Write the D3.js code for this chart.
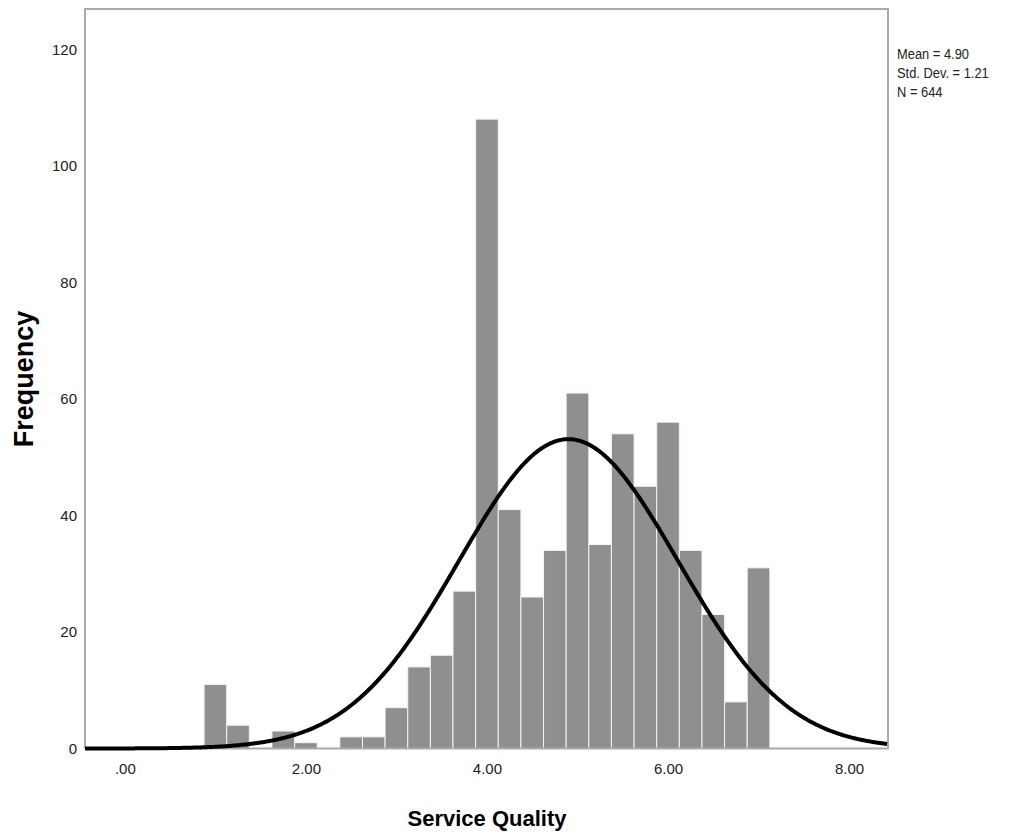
<!DOCTYPE html>
<html>

<head>
  <meta charset="utf-8" />
  <title>Service Quality</title>
  <style>
    body {
      margin: 0;
      background: #fff;
      font-family: "Liberation Sans", Arial, sans-serif;
    }

    .tick text {
      font-family: "Liberation Sans", Arial, sans-serif;
      font-size: 15px;
      fill: #222;
    }

    .bar {
      fill: #918e8e;
      stroke: #f4f4f4;
      stroke-width: 1;
    }
  </style>
  <script src="https://cdnjs.cloudflare.com/ajax/libs/d3/7.8.5/d3.min.js"></script>
</head>

<body>
  <div id="chart"></div>
  <script>
    // bin midpoints (width .25) and counts
    var binMids = [1.00, 1.25, 1.50, 1.75, 2.00, 2.25, 2.50, 2.75, 3.00, 3.25, 3.50, 3.75, 4.00,
      4.25, 4.50, 4.75, 5.00, 5.25, 5.50, 5.75, 6.00, 6.25, 6.50, 6.75, 7.00];
    var counts = [11, 4, 0, 3, 1, 0, 2, 2, 7, 14, 16, 27, 108,
      41, 26, 34, 61, 35, 54, 45, 56, 34, 23, 8, 31];
    var binWidth = 0.25;
    var xTicks = [0, 2, 4, 6, 8];
    var yTicks = [0, 20, 40, 60, 80, 100, 120];
    var mean = 4.90, sd = 1.21, n = 644;
    var statLines = ['Mean = 4.90', 'Std. Dev. = 1.21', 'N = 644'];

    var W = 1011, H = 836;
    var pLeft = 85, pRight = 888, pTop = 9, pBottom = 748.5;

    var svg = d3.select('#chart').append('svg')
      .attr('width', W)
      .attr('height', H);

    var x = d3.scaleLinear()
      .domain([-0.44, 8.43])
      .range([pLeft, pRight]);

    var y = d3.scaleLinear()
      .domain([0, 126.9])
      .range([pBottom, pTop]);

    var bins = binMids.map((m, i) => ({ mid: m, count: counts[i] }))
      .filter(d => d.count > 0);

    // bars
    svg.selectAll('rect.bar')
      .data(bins)
      .enter()
      .append('rect')
      .attr('class', 'bar')
      .attr('x', d => x(d.mid - binWidth / 2))
      .attr('y', d => y(d.count))
      .attr('width', x(binWidth) - x(0))
      .attr('height', d => y(0) - y(d.count));

    // normal curve from the stats shown
    var pts = d3.range(-0.44, 8.44, 0.02).map(function (v) {
      var z = (v - mean) / sd;
      return [v, n * binWidth * Math.exp(-0.5 * z * z) / (sd * Math.sqrt(2 * Math.PI))];
    });

    // frame
    svg.append('path')
      .attr('d', 'M' + pLeft + ',' + pBottom + 'V' + pTop + 'H' + pRight + 'V' + pBottom + 'H' + pLeft)
      .attr('fill', 'none')
      .attr('stroke', '#aaa')
      .attr('stroke-width', 2);

    svg.append('path')
      .datum(pts)
      .attr('fill', 'none')
      .attr('stroke', '#000')
      .attr('stroke-width', 4)
      .attr('d', d3.line().x(d => x(d[0])).y(d => y(d[1])));

    // axes
    var xAxis = svg.append('g')
      .attr('transform', 'translate(0,' + pBottom + ')')
      .call(d3.axisBottom(x).tickValues(xTicks).tickSize(0).tickPadding(15)
        .tickFormat(d => d3.format('.2f')(d).replace(/^0\./, '.')));
    xAxis.select('.domain').remove();

    var yAxis = svg.append('g')
      .attr('transform', 'translate(' + pLeft + ',0)')
      .call(d3.axisLeft(y).tickValues(yTicks).tickSize(0).tickPadding(8));
    yAxis.select('.domain').remove();

    svg.append('text')
      .attr('x', 487)
      .attr('y', 826)
      .attr('text-anchor', 'middle')
      .style('font-size', '22px')
      .style('font-weight', 'bold')
      .text('Service Quality');

    svg.append('text')
      .attr('transform', 'translate(33,379) rotate(-90)')
      .attr('text-anchor', 'middle')
      .style('font-size', '27px')
      .style('font-weight', 'bold')
      .text('Frequency');

    svg.append('g')
      .attr('transform', 'translate(897,0) scale(0.86,1)')
      .selectAll('text')
      .data(statLines)
      .enter()
      .append('text')
      .attr('x', 0)
      .attr('y', (d, i) => 59.5 + i * 19)
      .style('font-size', '15px')
      .style('fill', '#222')
      .text(d => d);
  </script>
</body>

</html>
